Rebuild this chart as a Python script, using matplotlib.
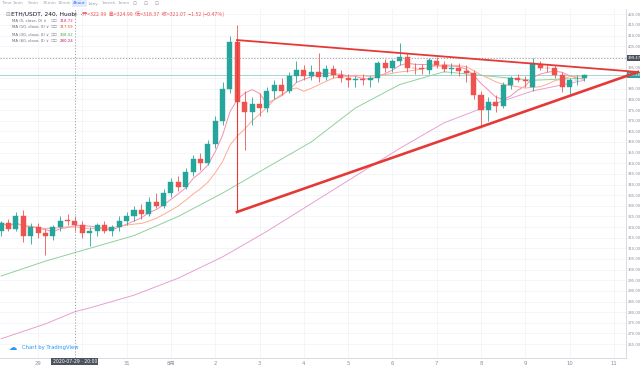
import numpy as np
import pandas as pd
import matplotlib
matplotlib.use("Agg")
import matplotlib.pyplot as plt

plt.rcParams['font.family'] = ['DejaVu Sans', 'Noto Sans CJK SC']

# ---------------- data (ETH/USDT, 4h candles, Huobi) ----------------
opens = [318, 322, 319, 325, 316, 320, 317, 316, 320, 323,
         322.99, 321, 317, 318, 321, 318, 320, 323, 325, 328,
         326, 332, 330, 336, 341, 339, 346, 352, 350, 359,
         370, 385, 407, 379, 374, 378, 376, 384, 387, 384,
         391, 394, 391, 393, 390.5, 394.3, 391.5, 390, 389, 389.5,
         389, 390, 397, 395, 398, 400, 395, 394.6, 394, 398,
         396.2, 394.3, 395, 393.3, 392.5, 382, 375, 379, 377, 387,
         390, 389, 386, 396.2, 394.8, 394.6, 391.5, 386, 389, 390]
highs = [323, 324, 327, 328, 322, 322, 319, 321, 325, 326,
         324.99, 323, 320, 322, 323, 321, 325, 327, 330, 331,
         334, 336, 338, 343, 344, 348, 354, 355, 361, 372,
         388, 410, 415, 384, 381, 383, 386, 389, 390, 393,
         398, 396, 396, 402, 396, 396, 394, 392, 391, 392,
         391, 398, 399, 399, 406.5, 402, 397, 396.5, 399.5, 400,
         398, 397, 397, 396, 394, 384, 381, 382, 388, 391,
         392, 391, 399.5, 398, 396, 396, 393, 390, 391.5, 392]
lows = [316, 318, 318, 313, 312, 315, 307, 314, 318, 321,
        318.37, 315, 311, 316, 317, 316, 318, 321, 323, 324,
        325, 329, 329, 334, 337, 338, 344, 347, 349, 357,
        368, 383, 372, 356, 368, 372, 374, 380, 382, 383,
        388, 389, 389, 388, 389, 390, 388, 386, 386, 387,
        386, 388, 393, 393, 396, 393, 392, 392, 392, 395,
        393, 392, 391, 388, 380, 366.5, 370, 374, 376, 385,
        388, 386, 384, 394, 393, 390, 383.5, 382, 387, 388.5]
closes = [322, 319, 325, 316, 320, 317, 316, 320, 323, 322.99,
          321.07, 317, 318, 321, 318, 320, 323, 325, 328, 326,
          332, 330, 336, 341, 339, 346, 352, 350, 359, 370,
          385, 407, 379, 374, 378, 376, 384, 387, 384, 391,
          394, 391, 393, 390.5, 394.3, 391.5, 390, 389, 389.5, 389,
          390, 397, 395, 398, 400, 395, 394.6, 394.4, 398.5, 396.2,
          394.3, 394.8, 393.3, 392.5, 382, 375, 379, 377, 387, 390,
          389, 388.5, 397, 394.8, 394.6, 391.5, 385.8, 389, 389.3, 391.48]

ma_sample_idx = [0, 6, 10, 12, 18, 24, 30, 36, 42, 48, 54, 60, 66, 72, 79]
ma30_vals = [297, 304, 308.02, 310, 316, 325, 336, 348, 360, 376, 387, 393, 391, 389, 390]
ma60_vals = [267.5, 274.5, 280.24, 282, 288, 296, 306, 318, 331, 344, 357, 369, 377, 384, 389]

# x tick labels (day starts)
day_tick_idx = [5, 17, 23, 29, 35, 41, 47, 53, 59, 65, 71, 77, 83]
day_tick_lbl = ['29', '31', '8月', '2', '3', '4', '5', '6', '7', '8', '9', '10', '11']
grid_day_idx = [5, 11, 17, 23, 29, 35, 41, 47, 53, 59, 65, 71, 77, 83]

price_ticks = list(range(265, 425, 5))
hidden_price_ticks = [390, 400]

# triangle drawing (candle index, price)
tri_top = (31.95, 407.9)
tri_bottom = (31.95, 327.1)
tri_apex = (86.27, 392.9)

cross_idx = 10
cross_price = 399.47
last_price = 391.48

legend_names = ['MA (5, close, 0)', 'MA (10, close, 0)', 'MA (30, close, 0)', 'MA (60, close, 0)']
legend_vals = ['318.72', '317.59', '308.02', '280.24']

# ---------------- styling ----------------
GREEN = '#26a69a'
RED = '#ef5350'
MA_COLORS = ['#f48fb1', '#ffab91', '#8fd19e', '#e8a0d0']
VAL_COLORS = ['#e91e63', '#f4511e', '#4caf50', '#c2185b']
GRID = '#f2f4f8'
TXT = '#8a8e99'

W, H = 640, 365
fig = plt.figure(figsize=(6.4, 3.65), dpi=100)
ax_left, ax_right, ax_top, ax_bot = 0, 626, 9, 358
ax = fig.add_axes([ax_left / W, 1 - ax_bot / H, (ax_right - ax_left) / W, (ax_bot - ax_top) / H])
ax.set_xlim(-0.149, 84.64)
ax.set_ylim(258.47, 422.5)

for s in ['top', 'left']:
    ax.spines[s].set_visible(False)
ax.spines['right'].set_color('#d1d4dc')
ax.spines['bottom'].set_color('#d1d4dc')
ax.spines['right'].set_linewidth(0.6)
ax.spines['bottom'].set_linewidth(0.6)

# grid
for gi in grid_day_idx:
    ax.axvline(gi, color=GRID, lw=0.6, zorder=0)
for p in price_ticks:
    ax.axhline(p, color=GRID, lw=0.6, zorder=0)

# ticks
ax.yaxis.tick_right()
yt = [p for p in price_ticks if p not in hidden_price_ticks]
ax.set_yticks(yt)
ax.set_yticklabels([f'{p:.2f}' for p in yt])
ax.set_xticks(day_tick_idx)
ax.set_xticklabels(day_tick_lbl)
ax.tick_params(axis='y', length=0, labelsize=2.7, colors=TXT, pad=1.2)
ax.tick_params(axis='x', length=0, labelsize=3.8, colors=TXT, pad=2)

# candles
o = np.array(opens); h = np.array(highs); l = np.array(lows); c = np.array(closes)
idx = np.arange(len(o))
up = c >= o
cols = np.where(up, GREEN, RED)
ax.vlines(idx, l, h, colors=cols, lw=0.6, zorder=3)
body_bottom = np.minimum(o, c)
body_h = np.maximum(np.abs(c - o), 0.35)
ax.bar(idx, body_h, bottom=body_bottom, width=0.68, color=cols, edgecolor=cols, lw=0.3, zorder=4)

# moving averages
cs = pd.Series(c)
ax.plot(idx, cs.rolling(5, min_periods=1).mean(), color=MA_COLORS[0], lw=0.7, zorder=2)
ax.plot(idx, cs.rolling(10, min_periods=1).mean(), color=MA_COLORS[1], lw=0.7, zorder=2)
ax.plot(ma_sample_idx, ma30_vals, color=MA_COLORS[2], lw=0.7, zorder=2)
ax.plot(ma_sample_idx, ma60_vals, color=MA_COLORS[3], lw=0.7, zorder=2)

# current price line
ax.axhline(last_price, color='#9ed9cf', lw=0.7, zorder=1)

# crosshair
ax.axhline(cross_price, color='#9598a1', lw=0.6, ls=(0, (1.5, 2)), zorder=5)
ax.axvline(cross_idx, color='#9598a1', lw=0.6, ls=(0, (1.5, 2)), zorder=5)

# triangle
TRI = '#e53935'
ax.plot([tri_top[0], tri_apex[0]], [tri_top[1], tri_apex[1]], color=TRI, lw=1.3, clip_on=False, zorder=8)
ax.plot([tri_bottom[0], tri_apex[0]], [tri_bottom[1], tri_apex[1]], color=TRI, lw=1.9, clip_on=False, zorder=8)
ax.plot([tri_top[0], tri_bottom[0]], [tri_top[1], tri_bottom[1]], color=TRI, lw=0.8, zorder=8)

# price labels on axis
ax.text(1.003, cross_price, f'{cross_price:.2f}', transform=ax.get_yaxis_transform(),
        fontsize=2.7, color='white', va='center', ha='left',
        bbox=dict(boxstyle='square,pad=0.3', fc='#4c525e', ec='none'), zorder=9, clip_on=False)
ax.text(1.003, last_price, f'{last_price:.2f}', transform=ax.get_yaxis_transform(),
        fontsize=2.7, color='white', va='center', ha='left',
        bbox=dict(boxstyle='square,pad=0.3', fc=GREEN, ec='none'), zorder=7, clip_on=False)
ax.text(cross_idx, -0.003, '2020-07-29 · 20:00', transform=ax.get_xaxis_transform(),
        fontsize=3.3, color='white', va='top', ha='center',
        bbox=dict(boxstyle='square,pad=0.3', fc='#4c525e', ec='none'), zorder=9, clip_on=False)

def ftext(x, y, s, **kw):
    fig.text(x / W, 1 - y / H, s, **kw)

# toolbar
tb = ['Time', '1min', '5min', '15min', '30min', '4hour', '1day', '1week', '1mon']
tbx = [1, 13, 28, 43, 58, 73, 88, 102, 118]
for t, x in zip(tb, tbx):
    if t == '4hour':
        ftext(x, 3.5, t, fontsize=3.2, color='#2962ff', va='center', ha='left',
              bbox=dict(boxstyle='square,pad=0.3', fc='#e3ecff', ec='none'))
    else:
        ftext(x, 3.5, t, fontsize=3.2, color='#a3a6af', va='center', ha='left')
for x in [133, 144, 155]:
    ftext(x, 3.5, '⊡', fontsize=3.4, color='#a3a6af', va='center', ha='left')

# header
ftext(5, 14, '⊟', fontsize=4.0, color='#9598a1', va='center', ha='left')
ftext(11, 14, 'ETH/USDT, 240, Huobi  ·', fontsize=4.2, color='#131722', va='center', ha='left')
ftext(82, 14, '开=322.99  高=324.99  低=318.37  收=321.07  −1.52 (−0.47%)',
      fontsize=3.8, color=RED, va='center', ha='left',
      fontfamily=['Noto Sans CJK SC', 'DejaVu Sans'])

ys = [20.5, 27.5, 34.5, 41.5]
for name, val, vcol, y in zip(legend_names, legend_vals, VAL_COLORS, ys):
    ftext(12, y, name + ' ∨', fontsize=2.8, color='#6a6d78', va='center', ha='left')
    ftext(51, y, '☐☐', fontsize=2.8, color='#9598a1', va='center', ha='left')
    ftext(60, y, val, fontsize=2.8, color=vcol, va='center', ha='left')

# watermark
ftext(9, 348, '☁', fontsize=6, color='#2196f3', va='center', ha='left')
ftext(22, 348, 'Chart by TradingView', fontsize=3.8, color='#2196f3', va='center', ha='left')

fig.savefig('out.png', dpi=100, facecolor='white')
